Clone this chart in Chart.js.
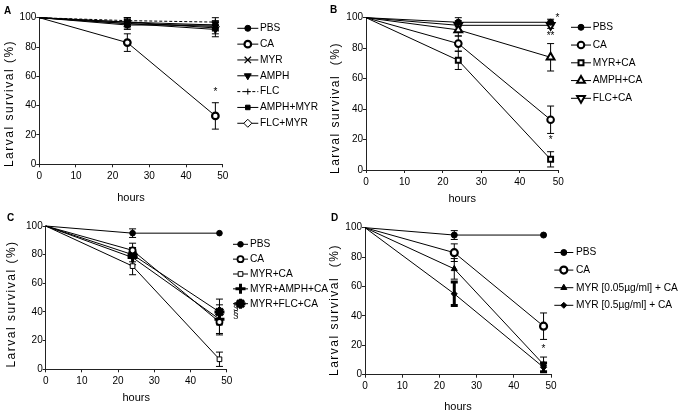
<!DOCTYPE html>
<html><head><meta charset="utf-8">
<script src="https://cdn.jsdelivr.net/npm/chart.js@4"></script>
<style>
html,body{margin:0;padding:0;background:#fff;width:682px;height:414px;overflow:hidden;}
canvas{position:absolute;display:block;}
</style></head><body>
<canvas id="cA" width="330" height="207" style="left:0;top:0"></canvas>
<canvas id="cB" width="354" height="207" style="left:328px;top:0"></canvas>
<canvas id="cC" width="330" height="207" style="left:0;top:207px"></canvas>
<canvas id="cD" width="354" height="207" style="left:328px;top:207px"></canvas>
<script>
// ---------- data ----------
const hours = [0, 24, 48];
const xTicks = [0, 10, 20, 30, 40, 50];
const yTicks = [0, 20, 40, 60, 80, 100];

// Panel A
const A_PBS = [100, 95, 95],   A_PBS_err = [0, 3, 2];
const A_CA = [100, 83, 33],    A_CA_err = [0, 6, 9];
const A_MYR = [100, 97, 93],   A_MYR_err = [0, 3, 4];
const A_AMPH = [100, 96, 92],  A_AMPH_err = [0, 3, 5];
const A_FLC = [100, 98, 97],   A_FLC_err = [0, 2, 3];
const A_AMPHMYR = [100, 97, 95], A_AMPHMYR_err = [0, 3, 3];
const A_FLCMYR = [100, 96, 94],  A_FLCMYR_err = [0, 2, 3];

// Panel B
const B_PBS = [100, 97, 97],    B_PBS_err = [0, 3, 2];
const B_CA = [100, 83, 33],     B_CA_err = [0, 5, 9];
const B_MYRCA = [100, 72, 7],   B_MYRCA_err = [0, 6, 5];
const B_AMPHCA = [100, 92, 74], B_AMPHCA_err = [0, 4, 9];
const B_FLCCA = [100, 95, 95],  B_FLCCA_err = [0, 3, 2];

// Panel C
const C_PBS = [100, 95, 95],     C_PBS_err = [0, 3, 0];
const C_CA = [100, 83, 33],      C_CA_err = [0, 5, 9];
const C_MYRCA = [100, 72, 7],    C_MYRCA_err = [0, 6, 5];
const C_MYRAMPH = [100, 78, 35], C_MYRAMPH_err = [0, 5, 10];
const C_MYRFLC = [100, 80, 40],  C_MYRFLC_err = [0, 5, 9];

// Panel D
const D_PBS = [100, 95, 95],   D_PBS_err = [0, 3, 0];
const D_CA = [100, 83, 33],    D_CA_err = [0, 6, 9];
const D_MYR005 = [100, 72, 7], D_MYR005_err = [0, 7, 5];
const D_MYR05 = [100, 55, 5],  D_MYR05_err = [0, 8, 3];

// ---------- styling helpers ----------
const F = "'Liberation Sans', Arial, sans-serif";
const AX = '#222';

function ds(label, values, errs, st) {
  const r = st.r || 3.5;
  return {
    label, data: hours.map((h, i) => ({x: h, y: values[i]})),
    errors: errs,
    borderColor: '#000', borderWidth: 1, tension: 0, fill: false,
    pointRadius: [0, r, r], pointHoverRadius: [0, r, r],
    pointStyle: st.style || 'circle',
    pointRotation: st.rot || 0,
    pointBackgroundColor: st.fill || '#000',
    pointBorderColor: '#000',
    pointBorderWidth: st.bw || 1,
    borderDash: st.dash || [],
    errLineWidth: st.elw || 1,
    clip: false
  };
}

function makeScales(yW, xH, titlePadB) {
  const grid = {display: true, drawOnChartArea: false, drawTicks: true, tickLength: 3, color: AX, lineWidth: 1};
  const border = {display: true, color: AX, width: 1};
  return {
    x: {
      type: 'linear', min: 0, max: 50,
      afterBuildTicks: s => { s.ticks = xTicks.map(v => ({value: v})); },
      grid, border,
      ticks: {color: '#000', font: {family: F, size: 10}, padding: 3, maxRotation: 0, autoSkip: false},
      title: {display: true, text: 'hours', color: '#000', font: {family: F, size: 11}, padding: {top: 0, bottom: titlePadB}},
      afterFit: s => { s.height = xH; }
    },
    y: {
      type: 'linear', min: 0, max: 100,
      afterBuildTicks: s => { s.ticks = yTicks.map(v => ({value: v})); },
      grid, border,
      ticks: {color: '#000', font: {family: F, size: 10}, padding: 0, autoSkip: false},
      afterFit: s => { s.width = yW; }
    }
  };
}

// error bars (drawn through scales)
const errorBars = {
  id: 'errorBars',
  beforeDatasetsDraw(chart) {
    const ctx = chart.ctx, xs = chart.scales.x, ys = chart.scales.y;
    ctx.save();
    ctx.strokeStyle = '#000';
    chart.data.datasets.forEach(d => {
      if (!d.errors) return;
      ctx.lineWidth = d.errLineWidth || 1;
      d.data.forEach((p, i) => {
        const e = d.errors[i];
        if (!e) return;
        const x = xs.getPixelForValue(p.x);
        const y1 = ys.getPixelForValue(p.y + e), y2 = ys.getPixelForValue(p.y - e);
        ctx.beginPath();
        ctx.moveTo(x, y1); ctx.lineTo(x, y2);
        ctx.moveTo(x - 3.5, y1); ctx.lineTo(x + 3.5, y1);
        ctx.moveTo(x - 3.5, y2); ctx.lineTo(x + 3.5, y2);
        ctx.stroke();
      });
    });
    ctx.restore();
  }
};

function drawMarker(ctx, d, x, y) {
  const r = d.pointRadius[1];
  ctx.fillStyle = d.pointBackgroundColor;
  ctx.strokeStyle = '#000';
  ctx.lineWidth = d.pointBorderWidth;
  if (Chart.helpers && Chart.helpers.drawPoint) {
    Chart.helpers.drawPoint(ctx, {pointStyle: d.pointStyle, radius: r, rotation: d.pointRotation, borderWidth: d.pointBorderWidth}, x, y);
  } else {
    ctx.beginPath(); ctx.arc(x, y, r, 0, Math.PI * 2); ctx.fill(); ctx.stroke();
  }
}

// legend, panel letter, y title, annotations
const decor = {
  id: 'decor',
  afterDraw(chart, args, o) {
    const ctx = chart.ctx;
    ctx.save();
    const L = o.legend;
    chart.data.datasets.forEach((d, i) => {
      const y = L.y0 + i * L.step;
      ctx.strokeStyle = '#000'; ctx.lineWidth = 1;
      ctx.setLineDash(d.borderDash || []);
      ctx.beginPath(); ctx.moveTo(L.x1, y); ctx.lineTo(L.x2, y); ctx.stroke();
      ctx.setLineDash([]);
      drawMarker(ctx, d, (L.x1 + L.x2) / 2, y);
      ctx.fillStyle = '#000';
      ctx.font = '10.2px ' + F;
      ctx.textBaseline = 'middle'; ctx.textAlign = 'left';
      ctx.fillText(d.label, L.tx, y);
    });
    ctx.font = 'bold 10px ' + F;
    ctx.textBaseline = 'alphabetic'; ctx.textAlign = 'left';
    ctx.fillStyle = '#000';
    ctx.fillText(o.letter.text, o.letter.x, o.letter.y);
    ctx.save();
    ctx.translate(o.yTitle.x, o.yTitle.y);
    ctx.rotate(-Math.PI / 2);
    ctx.font = '12px ' + F;
    if ('letterSpacing' in ctx) ctx.letterSpacing = '1.5px';
    ctx.textAlign = 'center'; ctx.textBaseline = 'middle';
    ctx.fillText(o.yTitle.text, 0, 0);
    ctx.restore();
    const xs = chart.scales.x, ys = chart.scales.y;
    ctx.font = '10px ' + F;
    ctx.textAlign = 'center'; ctx.textBaseline = 'middle';
    (o.notes || []).forEach(n => {
      ctx.fillText(n.text, xs.getPixelForValue(n.x), ys.getPixelForValue(n.y));
    });
    ctx.restore();
  }
};

function build(id, W, H, area, titlePadB, datasets, decorOpts) {
  new Chart(document.getElementById(id), {
    type: 'line',
    data: {datasets},
    options: {
      responsive: false, animation: false, events: [],
      layout: {padding: {left: 0, top: area.top, right: W - area.right, bottom: 0}},
      scales: makeScales(area.left, H - area.bottom, titlePadB),
      plugins: {legend: {display: false}, tooltip: {enabled: false}, decor: decorOpts}
    },
    plugins: [errorBars, decor]
  });
}

// ---------- Panel A ----------
build('cA', 330, 207, {left: 39.3, top: 17.7, right: 222.7, bottom: 164.3}, 2.8, [
  ds('PBS', A_PBS, A_PBS_err, {style: 'circle', r: 3}),
  ds('CA', A_CA, A_CA_err, {style: 'circle', r: 3.3, fill: '#fff', bw: 2.2}),
  ds('MYR', A_MYR, A_MYR_err, {style: 'crossRot', r: 4.5, bw: 1.3}),
  ds('AMPH', A_AMPH, A_AMPH_err, {style: 'triangle', rot: 180, r: 4}),
  ds('FLC', A_FLC, A_FLC_err, {style: 'cross', r: 3, dash: [3, 2]}),
  ds('AMPH+MYR', A_AMPHMYR, A_AMPHMYR_err, {style: 'rect', r: 3.2}),
  ds('FLC+MYR', A_FLCMYR, A_FLCMYR_err, {style: 'rectRot', r: 4, fill: '#fff', bw: 1})
], {
  legend: {x1: 237.3, x2: 258.3, tx: 260, y0: 28.3, step: 15.83},
  letter: {text: 'A', x: 4, y: 14},
  yTitle: {text: 'Larval survival (%)', x: 10, y: 103.5},
  notes: [{x: 48, y: 49, text: '*'}]
});

// ---------- Panel B ----------
build('cB', 354, 207, {left: 38, top: 17.7, right: 230.3, bottom: 170}, 1.8, [
  ds('PBS', B_PBS, B_PBS_err, {style: 'circle', r: 3}),
  ds('CA', B_CA, B_CA_err, {style: 'circle', r: 3.3, fill: '#fff', bw: 2}),
  ds('MYR+CA', B_MYRCA, B_MYRCA_err, {style: 'rect', r: 3.5, fill: '#fff', bw: 2}),
  ds('AMPH+CA', B_AMPHCA, B_AMPHCA_err, {style: 'triangle', r: 4.5, fill: '#fff', bw: 2}),
  ds('FLC+CA', B_FLCCA, B_FLCCA_err, {style: 'triangle', rot: 180, r: 4.5, fill: '#fff', bw: 2})
], {
  legend: {x1: 243, x2: 263, tx: 264.7, y0: 27.3, step: 17.75},
  letter: {text: 'B', x: 2, y: 13},
  yTitle: {text: 'Larval survival  (%)', x: 8, y: 108},
  notes: [{x: 49.8, y: 99.5, text: '*'}, {x: 48, y: 88, text: '**'}, {x: 48, y: 19.5, text: '*'}]
});

// ---------- Panel C ----------
build('cC', 330, 207, {left: 45.7, top: 19, right: 226.7, bottom: 162.3}, 9.8, [
  ds('PBS', C_PBS, C_PBS_err, {style: 'circle', r: 2.8}),
  ds('CA', C_CA, C_CA_err, {style: 'circle', r: 3, fill: '#fff', bw: 1.8}),
  ds('MYR+CA', C_MYRCA, C_MYRCA_err, {style: 'rect', r: 3.3, fill: '#fff', bw: 1}),
  ds('MYR+AMPH+CA', C_MYRAMPH, C_MYRAMPH_err, {style: 'cross', r: 5, bw: 3}),
  ds('MYR+FLC+CA', C_MYRFLC, C_MYRFLC_err, {style: 'star', r: 5, bw: 3})
], {
  legend: {x1: 233, x2: 248, tx: 250, y0: 37.3, step: 14.85},
  letter: {text: 'C', x: 7, y: 14},
  yTitle: {text: 'Larval survival (%)', x: 11.5, y: 97},
  notes: [{x: 52.5, y: 43, text: '§'}, {x: 52.5, y: 38, text: '§'}]
});

// ---------- Panel D ----------
build('cD', 354, 207, {left: 37, top: 20.7, right: 223, bottom: 167.7}, 0, [
  ds('PBS', D_PBS, D_PBS_err, {style: 'circle', r: 3}),
  ds('CA', D_CA, D_CA_err, {style: 'circle', r: 3.5, fill: '#fff', bw: 2.2}),
  ds('MYR [0.05µg/ml] + CA', D_MYR005, D_MYR005_err, {style: 'triangle', r: 3.5}),
  ds('MYR [0.5µg/ml] + CA', D_MYR05, D_MYR05_err, {style: 'rectRot', r: 3, elw: 3})
], {
  legend: {x1: 226.3, x2: 245.3, tx: 248, y0: 45.5, step: 17.6},
  letter: {text: 'D', x: 3, y: 14},
  yTitle: {text: 'Larval survival  (%)', x: 7, y: 103},
  notes: [{x: 48, y: 17, text: '*'}]
});
</script>
</body></html>
